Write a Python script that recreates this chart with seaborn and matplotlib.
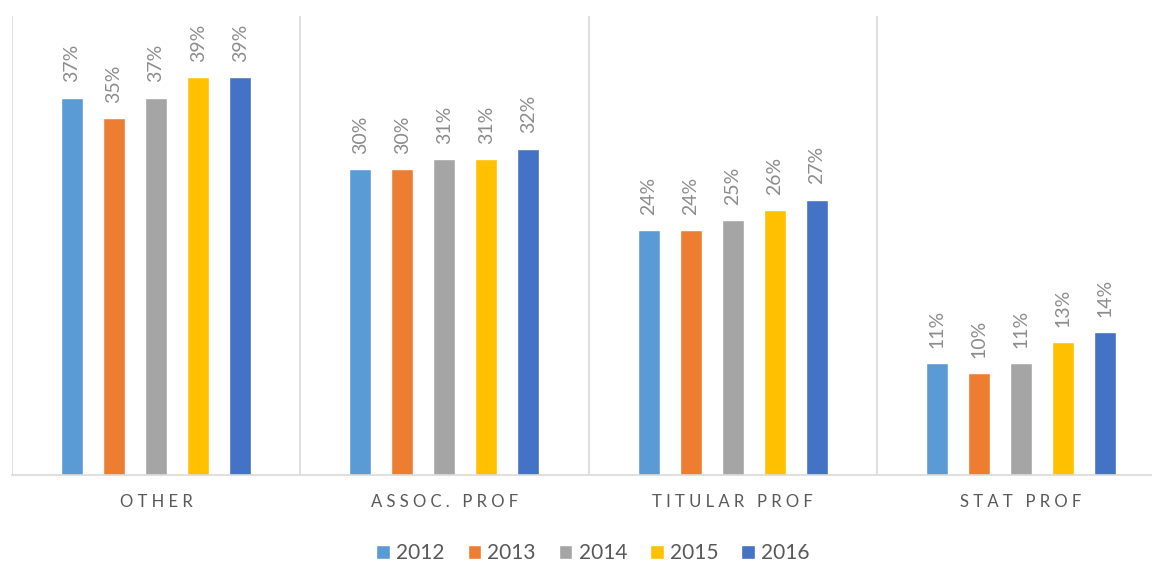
import numpy as np
import pandas as pd
import matplotlib
matplotlib.use('Agg')
import matplotlib.pyplot as plt
import seaborn as sns

# data
categories = ['OTHER', 'ASSOC. PROF', 'TITULAR PROF', 'STAT PROF']
years = ['2012', '2013', '2014', '2015', '2016']
values = {
    '2012': [37, 30, 24, 11],
    '2013': [35, 30, 24, 10],
    '2014': [37, 31, 25, 11],
    '2015': [39, 31, 26, 13],
    '2016': [39, 32, 27, 14],
}
colors = ['#5B9BD5', '#ED7D31', '#A5A5A5', '#FFC000', '#4472C4']

rows = []
for y in years:
    for cat, v in zip(categories, values[y]):
        rows.append({'category': cat, 'year': y, 'value': v})
df = pd.DataFrame(rows)

sns.set_style('white')
plt.rcParams['font.family'] = ['Lato', 'DejaVu Sans']

fig = plt.figure(figsize=(11.52, 5.62), dpi=100)
ax = fig.add_axes([12 / 1152, 1 - 475 / 562, 1153 / 1152, (475 - 16) / 562])

sns.barplot(data=df, x='category', y='value', hue='year', order=categories,
            hue_order=years, palette=colors, width=0.729, gap=0.476,
            saturation=1, ax=ax)

for cont in ax.containers:
    ax.bar_label(cont, fmt='{:.0f}%', rotation=90, padding=11,
                 color='#8C8C8C', fontsize=14)

ax.set_xlim(-0.5, 3.5)
ax.set_ylim(0, 45)
ax.set_yticks([])
ax.set_xlabel('')
ax.set_ylabel('')

# vertical separators between categories
for xpos in np.arange(-0.5, 4.0, 1.0):
    ax.axvline(xpos, color='#D9D9D9', lw=1.2, zorder=0)

for s in ['top', 'left', 'right']:
    ax.spines[s].set_visible(False)
ax.spines['bottom'].set_color('#D9D9D9')
ax.spines['bottom'].set_linewidth(1.2)

ax.set_xticks(range(len(categories)))
ax.set_xticklabels([' '.join(c) for c in categories], color='#595959', fontsize=12)
ax.tick_params(axis='x', length=0, pad=14)

handles, labels = ax.get_legend_handles_labels()
ax.get_legend().remove()
fig.legend(handles, labels, loc='center', bbox_to_anchor=(593 / 1152, 1 - 553 / 562),
           ncol=5, frameon=False, fontsize=15, handlelength=0.65, handleheight=0.65,
           handletextpad=0.3, columnspacing=1.1, labelcolor='#595959')

plt.savefig('out.png', dpi=100)
